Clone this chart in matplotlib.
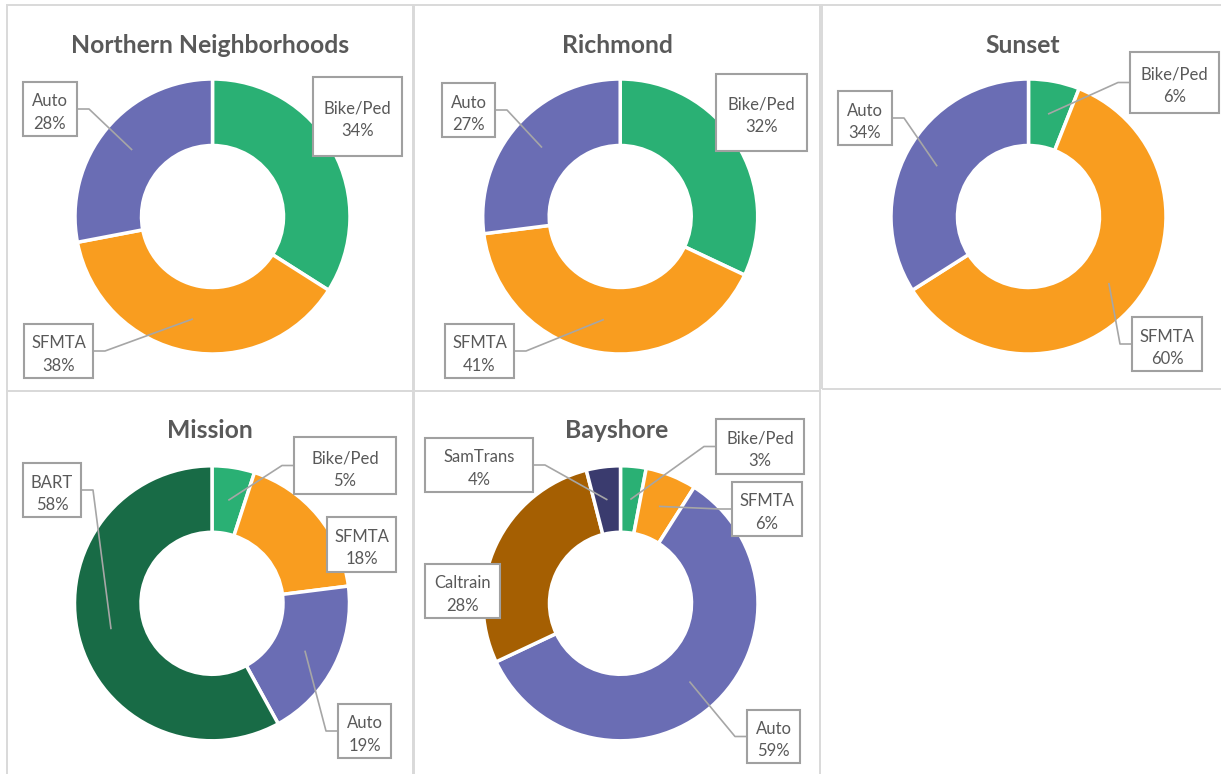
import numpy as np
import matplotlib
matplotlib.use('Agg')
import matplotlib.pyplot as plt
from matplotlib.patches import Rectangle

# figure is laid out in screen pixels (y measured from the top)
W, H = 1221, 774

plt.rcParams['font.family'] = ['Lato', 'DejaVu Sans']

COLORS = {
    'Bike/Ped': '#2AB074',
    'SFMTA': '#F99D1F',
    'Auto': '#6A6DB4',
    'BART': '#186B46',
    'Caltrain': '#A55F02',
    'SamTrans': '#3A3B6E',
}
TEXT = '#595959'

# ---- data (mode share, %) ----
northern_modes = ['Bike/Ped', 'SFMTA', 'Auto']
northern_share = [34, 38, 28]

richmond_modes = ['Bike/Ped', 'SFMTA', 'Auto']
richmond_share = [32, 41, 27]

sunset_modes = ['Bike/Ped', 'SFMTA', 'Auto']
sunset_share = [6, 60, 34]

mission_modes = ['Bike/Ped', 'SFMTA', 'Auto', 'BART']
mission_share = [5, 18, 19, 58]

bayshore_modes = ['Bike/Ped', 'SFMTA', 'Auto', 'Caltrain', 'SamTrans']
bayshore_share = [3, 6, 59, 28, 4]

# ---- layout: panel frame, donut centre, label boxes (x0, x1, y0, y1, leader) ----
panels = [
    dict(title='Northern Neighborhoods', modes=northern_modes, share=northern_share,
         frame=(7, 413, 5, 391), center=(212.5, 216.5), title_y=53,
         boxes=[(313, 402, 77, 156, False), (24, 93, 324, 378, True),
                (23, 77, 82, 136, True)]),
    dict(title='Richmond', modes=richmond_modes, share=richmond_share,
         frame=(414, 820, 5, 391), center=(620.2, 216.5), title_y=53,
         boxes=[(716, 807, 74, 151, False), (445, 514, 324, 378, True),
                (442, 495, 83, 137, True)]),
    dict(title='Sunset', modes=sunset_modes, share=sunset_share,
         frame=(822, 1224, 5, 389), center=(1028.5, 216.5), title_y=53,
         boxes=[(1130, 1219, 52, 113, True), (1132, 1202, 317, 371, True),
                (838, 892, 91, 145, True)]),
    dict(title='Mission', modes=mission_modes, share=mission_share,
         frame=(7, 413, 391, 778), center=(212, 603.3), title_y=438,
         boxes=[(294, 396, 437, 494, True), (327, 396, 517, 572, False),
                (338, 391, 704, 758, True), (23, 81, 463, 517, True)]),
    dict(title='Bayshore', modes=bayshore_modes, share=bayshore_share,
         frame=(414, 820, 391, 778), center=(620.5, 603.3), title_y=438,
         boxes=[(716, 804, 419, 474, True), (732, 802, 482, 536, True),
                (747, 800, 710, 763, True), (425, 500, 564, 618, False),
                (425, 533, 438, 492, True)]),
]

R_OUT = 137.5
RING = 66.5


def Y(y):
    return H - y


fig = plt.figure(figsize=(W / 100, H / 100), dpi=100)
ax = fig.add_axes([0, 0, 1, 1])

for p in panels:
    x0, x1, y0, y1 = p['frame']
    ax.add_patch(Rectangle((x0, Y(y1)), x1 - x0, y1 - y0, fill=False,
                           ec='#D9D9D9', lw=1.4, zorder=0))
    cx, cy = p['center']
    wedges, _ = ax.pie(p['share'], colors=[COLORS[m] for m in p['modes']],
                       startangle=90, counterclock=False, radius=R_OUT,
                       center=(cx, Y(cy)),
                       wedgeprops=dict(width=RING, edgecolor='white', linewidth=2.5))
    ax.text((x0 + x1) / 2, Y(p['title_y']), p['title'], ha='center', va='baseline',
            fontsize=17.8, fontweight='bold', color=TEXT)

    for w, mode, val, box in zip(wedges, p['modes'], p['share'], p['boxes']):
        bx0, bx1, by0, by1, leader = box
        # leader anchor sits in the middle of the ring at the wedge's mid angle
        mid = np.deg2rad((w.theta1 + w.theta2) / 2)
        rm = w.r - w.width / 2
        axp = w.center[0] + rm * np.cos(mid)
        ayp = w.center[1] + rm * np.sin(mid)
        ax.add_patch(Rectangle((bx0, Y(by1)), bx1 - bx0, by1 - by0, fc='white',
                               ec='#A0A0A0', lw=1.5, zorder=5))
        byc = (by0 + by1) / 2
        bxc = (bx0 + bx1) / 2
        ax.text(bxc, Y(byc - 2.5), mode, ha='center', va='baseline',
                fontsize=12, color=TEXT, zorder=6)
        ax.text(bxc, Y(byc + 20), f'{val}%', ha='center', va='baseline',
                fontsize=12, color=TEXT, zorder=6)
        if leader:
            if bxc < axp:
                ex, kx = bx1, bx1 + 12
            else:
                ex, kx = bx0, bx0 - 12
            ax.plot([axp, kx, ex], [ayp, Y(byc), Y(byc)], color='#A6A6A6',
                    lw=1.2, zorder=4, solid_capstyle='butt')

ax.set_xlim(0, W)
ax.set_ylim(0, H)
ax.set_aspect('equal')
ax.axis('off')

fig.savefig('out.png', dpi=100)
